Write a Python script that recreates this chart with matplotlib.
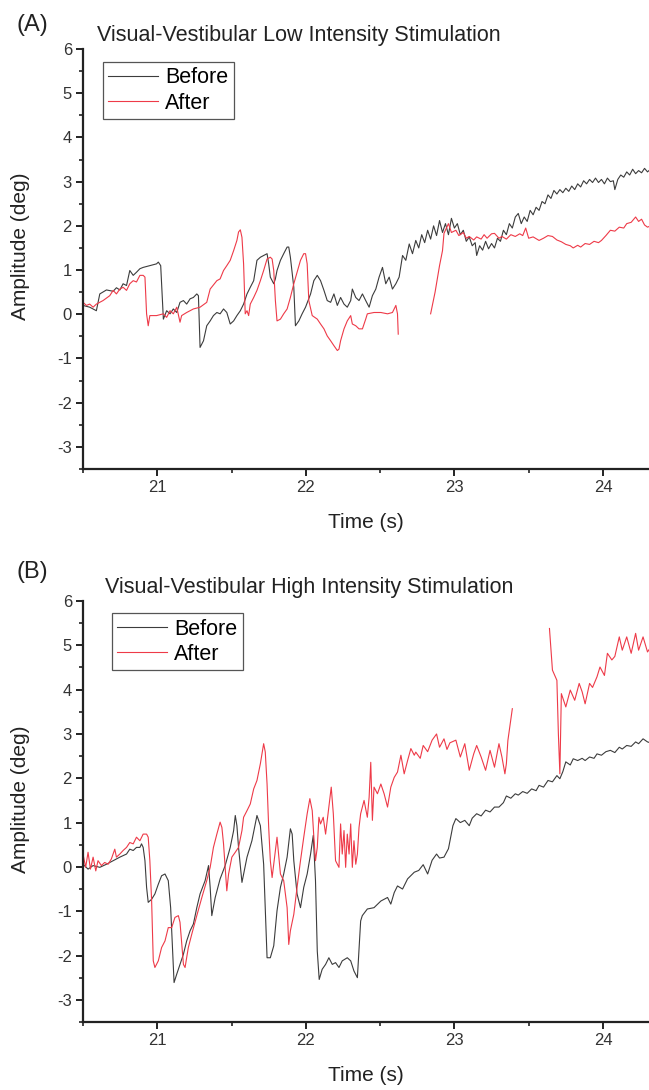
import numpy as np
import matplotlib.pyplot as plt
from matplotlib.ticker import MultipleLocator

nan = np.nan

# Panel A: low intensity stimulation
low_before_t = [
    20.50, 20.545, 20.59, 20.613, 20.658, 20.703, 20.725, 20.748, 20.77, 20.793,
    20.815, 20.838, 20.86, 20.883, 20.905, 20.95, 20.995, 21.007, 21.023, 21.041,
    21.063, 21.086, 21.108, 21.131, 21.153, 21.176, 21.198, 21.221, 21.243, 21.266,
    21.277, 21.288, 21.311, 21.333, 21.356, 21.378, 21.401, 21.423, 21.446, 21.468,
    21.491, 21.514, 21.536, 21.559, 21.581, 21.604, 21.626, 21.649, 21.671, 21.694,
    21.716, 21.739, 21.75, 21.761, 21.784, 21.795, 21.806, 21.829, 21.851, 21.874,
    21.885, 21.896, 21.919, 21.93, 21.953, 21.975, 21.998, 22.032, 22.054, 22.077,
    22.099, 22.122, 22.144, 22.167, 22.189, 22.212, 22.234, 22.257, 22.279, 22.302,
    22.313, 22.336, 22.358, 22.381, 22.403, 22.426, 22.448, 22.471, 22.493, 22.516,
    22.538, 22.561, 22.583, 22.606, 22.628, 22.651, 22.673, 22.696, 22.718,
    22.74, 22.76, 22.78, 22.80, 22.82, 22.84, 22.86, 22.88, 22.90, 22.92,
    22.94, 22.96, 22.98, 23.00, 23.02, 23.04, 23.06, 23.08, 23.10, 23.12,
    23.14, 23.15, 23.17, 23.19, 23.21, 23.23, 23.25, 23.27, 23.29, 23.31,
    23.33, 23.35, 23.37, 23.39, 23.41, 23.43, 23.45, 23.47, 23.49, 23.51,
    23.53, 23.55, 23.57, 23.59, 23.61, 23.63, 23.65, 23.67, 23.69, 23.71,
    23.73, 23.75, 23.77, 23.79, 23.81, 23.83, 23.85, 23.87, 23.89, 23.91,
    23.93, 23.95, 23.97, 23.99, 24.01, 24.03, 24.05, 24.07, 24.08, 24.10,
    24.12, 24.14, 24.16, 24.18, 24.20, 24.22, 24.24, 24.26, 24.28, 24.30, 24.32,
]
low_before_y = [
    0.20, 0.16, 0.08, 0.46, 0.55, 0.52, 0.60, 0.55, 0.69, 0.65,
    0.99, 0.88, 0.95, 1.03, 1.06, 1.10, 1.14, 1.18, 1.10, -0.11,
    0.08, 0.01, 0.12, 0.04, 0.27, 0.31, 0.23, 0.35, 0.38, 0.46,
    0.42, -0.75, -0.60, -0.26, -0.15, -0.03, 0.04, 0.01, 0.12, 0.04,
    -0.22, -0.15, -0.03, 0.08, 0.23, 0.46, 0.61, 0.76, 1.22, 1.29,
    1.33, 1.37, 1.14, 0.84, 0.69, 0.80, 0.99, 1.22, 1.37, 1.52,
    1.52, 1.29, 0.61, -0.26, -0.15, 0.01, 0.16, 0.46, 0.76, 0.88,
    0.76, 0.54, 0.31, 0.27, 0.46, 0.20, 0.38, 0.23, 0.16, 0.31,
    0.57, 0.38, 0.31, 0.46, 0.31, 0.16, 0.42, 0.57, 0.84, 1.06,
    0.69, 0.84, 0.57, 0.69, 0.84, 1.33, 1.22, 1.59, 1.37,
    1.67, 1.50, 1.80, 1.62, 1.90, 1.70, 2.00, 1.78, 2.12, 1.85,
    2.05, 1.80, 2.17, 1.95, 2.05, 1.80, 1.90, 1.65, 1.75, 1.55,
    1.62, 1.33, 1.55, 1.45, 1.65, 1.48, 1.60, 1.50, 1.72, 1.65,
    1.90, 1.80, 2.05, 1.95, 2.20, 2.28, 2.05, 2.20, 2.10, 2.35,
    2.25, 2.42, 2.35, 2.55, 2.50, 2.70, 2.62, 2.80, 2.72, 2.82,
    2.75, 2.85, 2.78, 2.90, 2.82, 2.95, 2.88, 3.02, 2.95, 3.05,
    2.98, 3.08, 2.98, 3.05, 2.95, 3.08, 3.00, 3.02, 2.82, 3.05,
    3.15, 3.10, 3.22, 3.15, 3.28, 3.18, 3.25, 3.20, 3.30, 3.22, 3.28,
]
low_after_t = [
    20.50, 20.523, 20.545, 20.568, 20.59, 20.613, 20.635, 20.68, 20.703, 20.725,
    20.748, 20.77, 20.793, 20.815, 20.838, 20.86, 20.883, 20.905, 20.917, 20.928,
    20.939, 20.95, 20.995, 21.041, 21.063, 21.086, 21.108, 21.131, 21.153, 21.164,
    21.198, 21.243, 21.288, 21.333, 21.356, 21.401, 21.423, 21.446, 21.468, 21.491,
    21.514, 21.536, 21.547, 21.559, 21.57, 21.581, 21.592, 21.604, 21.615, 21.626,
    21.649, 21.671, 21.694, 21.716, 21.739, 21.761, 21.773, 21.784, 21.795, 21.806,
    21.829, 21.851, 21.874, 21.896, 21.919, 21.941, 21.964, 21.986, 21.998, 22.009,
    22.02, 22.043, 22.077, 22.099, 22.122, 22.144, 22.167, 22.189, 22.212, 22.223,
    22.234, 22.257, 22.279, 22.302, 22.313, 22.336, 22.358, 22.381, 22.403, 22.414,
    22.459, 22.505, 22.55, 22.583, 22.606, 22.617, 22.622, nan,
    22.84, 22.87, 22.90, 22.92, 22.93, 22.96, 22.98, 23.01, 23.03, 23.06,
    23.08, 23.10, 23.13, 23.15, 23.18, 23.20, 23.22, 23.25, 23.27, 23.30,
    23.32, 23.35, 23.38, 23.41, 23.44, 23.46, 23.48, 23.50, 23.53, 23.57,
    23.60, 23.63, 23.66, 23.69, 23.72, 23.75, 23.78, 23.80, 23.83, 23.85,
    23.88, 23.91, 23.94, 23.97, 23.99, 24.02, 24.05, 24.08, 24.11, 24.14,
    24.16, 24.19, 24.22, 24.24, 24.26, 24.28, 24.30, 24.32,
]
low_after_y = [
    0.27, 0.20, 0.23, 0.16, 0.23, 0.27, 0.31, 0.42, 0.54, 0.46,
    0.57, 0.61, 0.54, 0.69, 0.76, 0.73, 0.88, 0.88, 0.84, 0.01,
    -0.26, -0.03, -0.03, 0.01, -0.07, 0.08, 0.01, 0.16, -0.18, -0.03,
    0.04, 0.12, 0.16, 0.27, 0.57, 0.76, 0.80, 0.99, 1.10, 1.22,
    1.44, 1.67, 1.86, 1.91, 1.74, 1.14, 0.01, 0.08, -0.03, 0.23,
    0.38, 0.54, 0.76, 0.99, 1.25, 1.29, 1.25, 0.99, 0.31, -0.15,
    -0.11, 0.01, 0.12, 0.38, 0.69, 0.95, 1.22, 1.37, 1.37, 1.14,
    0.31, -0.03, -0.11, -0.22, -0.33, -0.49, -0.60, -0.71, -0.82, -0.79,
    -0.60, -0.33, -0.15, -0.03, -0.22, -0.26, -0.33, -0.33, -0.11, 0.01,
    0.04, 0.04, 0.01, 0.04, 0.20, 0.01, -0.45, nan,
    0.01, 0.50, 1.10, 1.44, 1.83, 2.05, 1.85, 1.90, 1.78, 1.85,
    1.72, 1.76, 1.68, 1.75, 1.70, 1.80, 1.72, 1.82, 1.83, 1.72,
    1.76, 1.70, 1.80, 1.76, 1.82, 1.78, 1.95, 1.72, 1.75, 1.67,
    1.72, 1.78, 1.76, 1.68, 1.64, 1.58, 1.55, 1.50, 1.56, 1.52,
    1.60, 1.58, 1.65, 1.62, 1.67, 1.78, 1.90, 1.88, 1.97, 1.95,
    2.05, 2.08, 2.20, 2.10, 2.15, 2.02, 1.97, 2.00,
]

# Panel B: high intensity stimulation
high_before_t = [
    20.50, 20.534, 20.568, 20.613, 20.658, 20.703, 20.748, 20.793, 20.815, 20.838,
    20.86, 20.883, 20.894, 20.905, 20.917, 20.928, 20.939, 20.962, 20.984, 21.007,
    21.029, 21.052, 21.074, 21.09, 21.104, 21.113, 21.131, 21.153, 21.176, 21.198,
    21.221, 21.243, 21.266, 21.288, 21.322, 21.345, 21.356, 21.367, 21.39, 21.423,
    21.457, 21.491, 21.514, 21.525, 21.536, 21.547, 21.57, 21.604, 21.637, 21.671,
    21.694, 21.716, 21.739, 21.761, 21.784, 21.806, 21.829, 21.851, 21.874, 21.896,
    21.908, 21.919, 21.941, 21.964, 21.986, 22.009, 22.032, 22.05, 22.065, 22.077,
    22.09, 22.11, 22.133, 22.155, 22.178, 22.20, 22.223, 22.245, 22.279, 22.302,
    22.324, 22.347, 22.369, 22.38, 22.414, 22.459, 22.505, 22.55, 22.572, 22.595,
    22.617, 22.651, 22.685, 22.718, 22.73,
    22.76, 22.79, 22.82, 22.85, 22.88, 22.90, 22.93, 22.96, 22.99, 23.01,
    23.04, 23.07, 23.10, 23.12, 23.15, 23.18, 23.21, 23.24, 23.27, 23.30,
    23.33, 23.35, 23.38, 23.41, 23.43, 23.46, 23.49, 23.52, 23.55, 23.57,
    23.60, 23.63, 23.66, 23.69, 23.71, 23.73, 23.75, 23.78, 23.80, 23.83,
    23.86, 23.88, 23.91, 23.94, 23.96, 23.99, 24.02, 24.05, 24.08, 24.11,
    24.13, 24.16, 24.19, 24.22, 24.24, 24.27, 24.30, 24.32,
]
high_before_y = [
    0.06, -0.05, 0.03, -0.01, 0.06, 0.14, 0.22, 0.29, 0.40, 0.37,
    0.44, 0.44, 0.52, 0.44, 0.14, -0.46, -0.80, -0.73, -0.61, -0.39,
    -0.20, -0.16, -0.31, -0.92, -1.97, -2.61, -2.42, -2.20, -1.97, -1.67,
    -1.44, -1.29, -0.92, -0.61, -0.31, 0.03, -0.46, -1.10, -0.69, -0.27,
    0.03, 0.44, 0.82, 1.16, 0.93, 0.44, -0.35, 0.22, 0.59, 1.16,
    0.93, 0.06, -2.05, -2.05, -1.78, -0.99, -0.46, -0.16, 0.22, 0.86,
    0.74, 0.14, -0.61, -0.92, -0.46, -0.16, 0.29, 0.71, -0.31, -1.90,
    -2.54, -2.31, -2.20, -2.05, -2.20, -2.16, -2.27, -2.12, -2.05, -2.12,
    -2.35, -2.50, -1.22, -1.10, -0.95, -0.92, -0.77, -0.69, -0.84, -0.58,
    -0.43, -0.50, -0.27, -0.16, -0.12,
    -0.08, 0.05, -0.16, 0.15, 0.29, 0.20, 0.22, 0.41, 0.93, 1.09,
    1.00, 1.05, 0.93, 1.10, 1.20, 1.15, 1.28, 1.24, 1.35, 1.35,
    1.45, 1.60, 1.55, 1.65, 1.62, 1.70, 1.66, 1.76, 1.72, 1.84,
    1.80, 1.95, 1.92, 2.06, 1.99, 2.15, 2.37, 2.30, 2.44, 2.40,
    2.45, 2.40, 2.48, 2.45, 2.55, 2.52, 2.60, 2.63, 2.58, 2.70,
    2.66, 2.74, 2.72, 2.82, 2.78, 2.89, 2.82, 2.80,
]
high_after_t = [
    20.50, 20.518, 20.534, 20.55, 20.568, 20.586, 20.601, 20.624, 20.646, 20.669,
    20.691, 20.714, 20.725, 20.748, 20.77, 20.793, 20.815, 20.838, 20.86, 20.883,
    20.905, 20.928, 20.939, 20.95, 20.962, 20.973, 20.984, 21.007, 21.029, 21.052,
    21.074, 21.097, 21.119, 21.142, 21.153, 21.176, 21.187, 21.209, 21.232, 21.266,
    21.30, 21.333, 21.356, 21.378, 21.401, 21.423, 21.435, 21.446, 21.468, 21.48,
    21.502, 21.525, 21.547, 21.57, 21.581, 21.604, 21.626, 21.649, 21.671, 21.694,
    21.716, 21.727, 21.739, 21.75, 21.761, 21.773, 21.795, 21.806, 21.829, 21.851,
    21.874, 21.885, 21.896, 21.919, 21.941, 21.964, 21.986, 22.009, 22.027, 22.043,
    22.054, 22.065, 22.077, 22.088, 22.099, 22.117, 22.133, 22.155, 22.171, 22.185,
    22.20, 22.223, 22.234, 22.245, 22.257, 22.268, 22.279, 22.291, 22.302, 22.313,
    22.324, 22.336, 22.347, 22.358, 22.369, 22.392, 22.414, 22.426, 22.437, 22.448,
    22.459, 22.482, 22.505, 22.527, 22.55, 22.572, 22.595, 22.617, 22.64, 22.662,
    22.685, 22.707, 22.73,
    22.74, 22.77, 22.79, 22.82, 22.85, 22.88, 22.90, 22.93, 22.95, 22.97,
    23.01, 23.04, 23.07, 23.10, 23.13, 23.15, 23.18, 23.21, 23.24, 23.27,
    23.30, 23.32, 23.34, 23.35, 23.36, 23.39, nan,
    23.64, 23.66, 23.69, 23.70, 23.71, 23.72, 23.75, 23.78, 23.81, 23.84,
    23.86, 23.88, 23.91, 23.93, 23.96, 23.98, 24.01, 24.03, 24.06, 24.08,
    24.11, 24.13, 24.16, 24.19, 24.22, 24.24, 24.27, 24.30, 24.32,
]
high_after_y = [
    0.29, -0.01, 0.33, -0.05, 0.22, -0.09, 0.14, 0.03, 0.10, 0.06,
    0.18, 0.40, 0.22, 0.29, 0.37, 0.44, 0.55, 0.52, 0.67, 0.59,
    0.74, 0.74, 0.67, 0.14, -0.77, -2.12, -2.27, -2.12, -1.82, -1.67,
    -1.37, -1.37, -1.14, -1.10, -1.25, -2.20, -2.27, -1.82, -1.52, -1.10,
    -0.69, -0.31, -0.01, 0.44, 0.74, 1.01, 0.89, 0.52, -0.54, -0.16,
    0.22, 0.33, 0.44, 0.82, 1.12, 1.27, 1.42, 1.76, 1.95, 2.33,
    2.78, 2.59, 1.87, 0.89, 0.14, -0.24, 0.37, 0.67, -0.16, -0.31,
    -0.92, -1.75, -1.44, -1.07, -0.46, 0.14, 0.67, 1.20, 1.54, 1.27,
    0.67, 0.14, 0.44, 1.12, 0.97, 1.12, 0.74, 1.35, 1.80, 1.20,
    0.14, -0.01, 0.97, 0.29, 0.82, -0.01, 0.74, 0.29, 0.97, -0.01,
    0.59, 0.06, 0.29, 0.89, 1.20, 1.50, 1.12, 1.57, 2.36, 1.05,
    1.80, 1.65, 1.87, 1.65, 1.35, 1.80, 2.02, 2.14, 2.52, 2.10,
    2.40, 2.67, 2.52,
    2.59, 2.45, 2.74, 2.60, 2.86, 3.00, 2.70, 2.89, 2.65, 2.80,
    2.86, 2.48, 2.78, 2.18, 2.55, 2.74, 2.48, 2.18, 2.63, 2.25,
    2.78, 2.48, 2.10, 2.33, 2.85, 3.57, nan,
    5.38, 4.44, 4.21, 3.00, 2.10, 3.91, 3.61, 3.99, 3.76, 4.14,
    3.95, 3.68, 4.14, 4.05, 4.29, 4.51, 4.32, 4.82, 4.67, 4.75,
    5.19, 4.89, 5.19, 4.82, 5.27, 4.89, 5.19, 4.85, 4.95,
]

titles = ["Visual-Vestibular Low Intensity Stimulation",
          "Visual-Vestibular High Intensity Stimulation"]
panel_tags = ["(A)", "(B)"]

BEFORE_COLOR = "#3c3c3c"
AFTER_COLOR = "#ee3a48"
W, H = 649, 1090


def style_axes(ax):
    ax.set_xlim(20.5, 24.31)
    ax.set_ylim(-3.5, 6)
    ax.xaxis.set_major_locator(MultipleLocator(1))
    ax.xaxis.set_minor_locator(MultipleLocator(0.5))
    ax.yaxis.set_major_locator(MultipleLocator(1))
    ax.yaxis.set_minor_locator(MultipleLocator(0.5))
    for side in ["top", "right"]:
        ax.spines[side].set_visible(False)
    for side in ["left", "bottom"]:
        ax.spines[side].set_linewidth(1.6)
        ax.spines[side].set_color("#222222")
    ax.tick_params(which="major", direction="out", length=5, width=1.4,
                   labelsize=12, color="#222222", labelcolor="#333333", pad=3)
    ax.tick_params(which="minor", direction="out", length=3, width=1.2, color="#222222")
    ax.set_xlabel("Time (s)", fontsize=15, color="#222222")
    ax.set_ylabel("Amplitude (deg)", fontsize=15, color="#222222")


def draw_panel(ax, t_before, y_before, t_after, y_after, legend_anchor):
    ax.plot(t_before, y_before, color=BEFORE_COLOR, lw=0.8, label="Before")
    ax.plot(t_after, y_after, color=AFTER_COLOR, lw=0.8, label="After")
    style_axes(ax)
    ax.xaxis.set_label_coords(0.5, -0.105)
    ax.yaxis.set_label_coords(-0.093, 0.53)
    leg = ax.legend(loc="upper left", bbox_to_anchor=legend_anchor, borderaxespad=0,
                    fontsize=15.5, handlelength=2.3, handletextpad=0.35,
                    labelspacing=0.2, borderpad=0.25, fancybox=False, framealpha=1)
    leg.get_frame().set_edgecolor("#555555")
    leg.get_frame().set_linewidth(0.9)


def main():
    plt.rcParams["font.family"] = ["Liberation Sans", "DejaVu Sans"]
    plt.rcParams["axes.unicode_minus"] = False

    fig = plt.figure(figsize=(W / 100, H / 100), dpi=100)
    ax_a = fig.add_axes([83 / W, 1 - 469 / H, 1 - 83 / W, 420 / H])
    ax_b = fig.add_axes([83 / W, 1 - 1022 / H, 1 - 83 / W, 421 / H])

    draw_panel(ax_a, low_before_t, low_before_y, low_after_t, low_after_y, (0.035, 0.969))
    draw_panel(ax_b, high_before_t, high_before_y, high_after_t, high_after_y, (0.051, 0.971))

    fig.text(97 / W, 1 - 35 / H, titles[0], fontsize=15.5, va="center", color="#222222")
    fig.text(105 / W, 1 - 587 / H, titles[1], fontsize=15.5, va="center", color="#222222")
    fig.text(16 / W, 1 - 25 / H, panel_tags[0], fontsize=17, va="center", color="#222222")
    fig.text(16 / W, 1 - 572 / H, panel_tags[1], fontsize=17, va="center", color="#222222")

    fig.savefig("out.png", dpi=100)
    plt.close(fig)


if __name__ == "__main__":
    main()
